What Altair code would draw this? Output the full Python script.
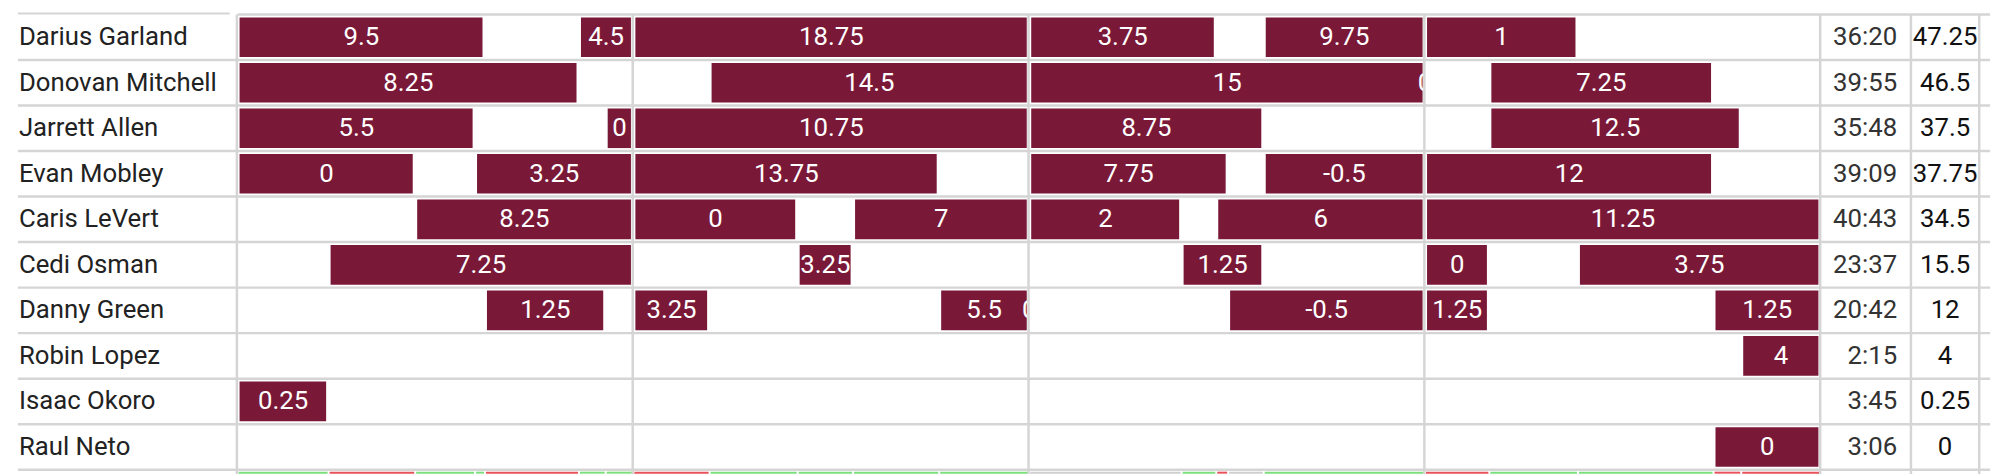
import altair as alt
import pandas as pd

# ---------------- data ----------------
players = ["Darius Garland", "Donovan Mitchell", "Jarrett Allen", "Evan Mobley",
           "Caris LeVert", "Cedi Osman", "Danny Green", "Robin Lopez",
           "Isaac Okoro", "Raul Neto"]
minutes_played = ["36:20", "39:55", "35:48", "39:09", "40:43", "23:37",
                  "20:42", "2:15", "3:45", "3:06"]
fantasy_totals = ["47.25", "46.5", "37.5", "37.75", "34.5", "15.5",
                  "12", "4", "0.25", "0"]

# stints on court (game minutes 0-48) and fantasy points in each stint
stint_player = (["Darius Garland"] * 6 + ["Donovan Mitchell"] * 5 + ["Jarrett Allen"] * 5
                + ["Evan Mobley"] * 6 + ["Caris LeVert"] * 6 + ["Cedi Osman"] * 5
                + ["Danny Green"] * 7 + ["Robin Lopez"] + ["Isaac Okoro"] + ["Raul Neto"])
stint_start = [0, 10.35, 12, 24, 31.11, 36,
               0, 14.31, 24, 36, 37.95,
               0, 11.16, 12, 24, 37.95,
               0, 7.2, 12, 24, 31.11, 36,
               5.385, 12, 18.66, 24, 29.67, 36,
               2.76, 16.98, 28.62, 36, 40.635,
               7.5, 12, 21.27, 24, 30.03, 36, 44.745,
               45.585,
               0,
               44.745]
stint_end = [7.5, 12, 24, 29.67, 36, 40.635,
             10.35, 24, 36, 36, 44.745,
             7.2, 12, 24, 31.11, 45.585,
             5.385, 12, 21.27, 30.03, 36, 44.745,
             12, 16.98, 24, 28.62, 36, 48,
             12, 18.66, 31.11, 37.95, 48,
             11.16, 14.31, 24, 24, 36, 37.95, 48,
             48,
             2.76,
             48]
stint_value = ["9.5", "4.5", "18.75", "3.75", "9.75", "1",
               "8.25", "14.5", "15", "0", "7.25",
               "5.5", "0", "10.75", "8.75", "12.5",
               "0", "3.25", "13.75", "7.75", "-0.5", "12",
               "8.25", "0", "7", "2", "6", "11.25",
               "7.25", "3.25", "1.25", "0", "3.75",
               "1.25", "3.25", "5.5", "0", "-0.5", "1.25", "1.25",
               "4",
               "0.25",
               "0"]

# team lineup segments (bottom strip)
seg_start = [0, 2.76, 5.385, 7.2, 7.5, 10.35, 11.16, 12, 14.31, 16.98, 18.66, 21.27,
             24, 28.62, 29.67, 30.03, 31.11, 36, 37.95, 40.635, 44.745, 45.585]
seg_end = [2.76, 5.385, 7.2, 7.5, 10.35, 11.16, 12, 14.31, 16.98, 18.66, 21.27, 24,
           28.62, 29.67, 30.03, 31.11, 36, 37.95, 40.635, 44.745, 45.585, 48]
seg_result = ["plus", "minus", "plus", "plus", "minus", "plus", "plus", "minus", "plus",
              "plus", "plus", "plus", "even", "plus", "minus", "even", "plus", "minus",
              "plus", "plus", "minus", "minus"]

quarter_lines = [0, 12, 24, 36, 48]

# ---------------- styling ----------------
MAROON = "#7a1838"
GRID = "#d5d5d5"
FONT = "Roboto"
FS = 26
GW = 2.5
H = 460

rows_df = pd.DataFrame({"player": players, "minutes": minutes_played, "total": fantasy_totals})
stints_df = pd.DataFrame({"player": stint_player, "start": stint_start,
                          "end": stint_end, "value": stint_value})
seg_df = pd.DataFrame({"start": seg_start, "end": seg_end, "result": seg_result})
q_df = pd.DataFrame({"t": quarter_lines})
one = pd.DataFrame({"k": [0]})


def Y(**kw):
    return alt.Y("player:N", axis=None,
                 scale=alt.Scale(domain=players, paddingInner=0, paddingOuter=0), **kw)


def X(field):
    return alt.X(f"{field}:Q", axis=None,
                 scale=alt.Scale(domain=[0, 48], nice=False, zero=False))


def hlines(x0, x1, skip_first=False):
    base = alt.Chart(rows_df)
    if skip_first:
        base = base.transform_filter(alt.datum.player != players[0])
    lines = base.mark_rule(color=GRID, strokeWidth=GW).encode(
        y=Y(bandPosition=0), x=alt.value(x0), x2=alt.value(x1))
    bottom = alt.Chart(one).mark_rule(color=GRID, strokeWidth=GW).encode(
        y=alt.value(H), x=alt.value(x0), x2=alt.value(x1))
    return [lines, bottom]


# ---- names column ----
name_text = alt.Chart(rows_df).mark_text(
    align="left", baseline="middle", font=FONT, fontSize=FS, color="#222222"
).encode(y=Y(), x=alt.value(11), text="player:N")
name_top = alt.Chart(one).mark_rule(color=GRID, strokeWidth=2).encode(
    y=alt.value(-1), x=alt.value(10), x2=alt.value(224))
names_panel = alt.layer(name_text, name_top, *hlines(10, 232, skip_first=True)).properties(
    width=232, height=H)

# ---- timeline ----
bars = alt.Chart(stints_df).transform_filter("datum.end > datum.start").mark_bar(
    size=40, color=MAROON, xOffset=2, x2Offset=-2.5
).encode(x=X("start"), x2="end", y=Y())
labels = alt.Chart(stints_df).transform_calculate(
    mid="(datum.start + datum.end) / 2"
).mark_text(font=FONT, fontSize=FS, color="white", baseline="middle").encode(
    x=X("mid"), y=Y(), text="value:N")
strip = alt.Chart(seg_df).mark_rule(strokeWidth=2, xOffset=1, x2Offset=-1).encode(
    x=X("start"), x2="end", y=alt.value(H + 3),
    color=alt.Color("result:N", legend=None,
                    scale=alt.Scale(domain=["plus", "minus", "even"],
                                    range=["#7be07b", "#e8525a", "#cfcfcf"])))
vlines = alt.Chart(q_df).mark_rule(color=GRID, strokeWidth=GW, xOffset=-0.7).encode(
    x=X("t"), y=alt.value(0), y2=alt.value(H + 12))
timeline_panel = alt.layer(bars, labels, strip, *hlines(0, 1600), vlines).properties(
    width=1600, height=H)

# ---- minutes column ----
min_text = alt.Chart(rows_df).mark_text(
    align="right", baseline="middle", font=FONT, fontSize=FS, color="#333333"
).encode(y=Y(), x=alt.value(77), text="minutes:N")
min_vline = alt.Chart(one).mark_rule(color=GRID, strokeWidth=GW).encode(
    x=alt.value(91), y=alt.value(0), y2=alt.value(H + 12))
minutes_panel = alt.layer(min_text, *hlines(0, 91), min_vline).properties(width=91, height=H)

# ---- totals column ----
tot_text = alt.Chart(rows_df).mark_text(
    align="center", baseline="middle", font=FONT, fontSize=FS, color="#111111"
).encode(y=Y(), x=alt.value(34.5), text="total:N")
tot_vline = alt.Chart(one).mark_rule(color=GRID, strokeWidth=GW).encode(
    x=alt.value(69), y=alt.value(0), y2=alt.value(H + 12))
totals_panel = alt.layer(tot_text, *hlines(0, 80), tot_vline).properties(width=69, height=H)

chart = alt.hconcat(
    names_panel, timeline_panel, minutes_panel, totals_panel,
    spacing=0, bounds="flush"
).properties(
    padding={"left": 0, "top": 2, "right": 8, "bottom": 8}
).configure_view(stroke=None)

chart.save("out.html", embed_options={"renderer": "svg", "actions": False})
